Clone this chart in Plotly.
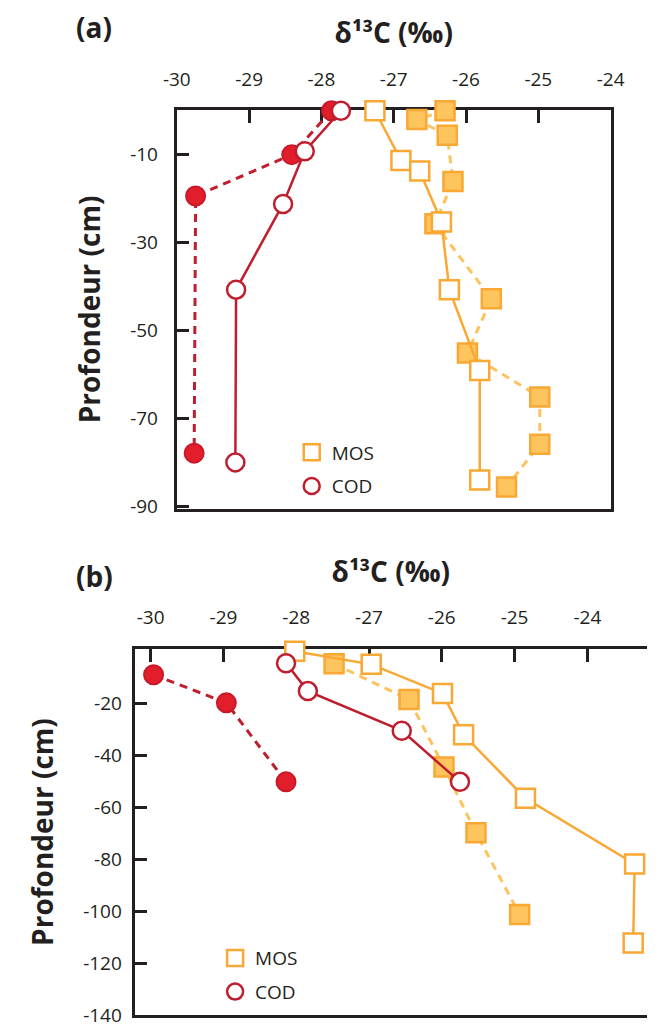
import plotly.graph_objects as go

# ---------------- data ----------------
# Panel (a)
a_cod_open_x = [-27.73, -28.23, -28.53, -29.18, -29.19]
a_cod_open_y = [0, -9.2, -21.2, -40.7, -80.0]
a_cod_fill_x = [-27.86, -28.41, -29.74, -29.76]
a_cod_fill_y = [0, -10, -19.4, -77.9]
a_mos_open_x = [-27.26, -26.90, -26.64, -26.34, -26.23, -25.81, -25.81]
a_mos_open_y = [0, -11.3, -13.7, -25.3, -40.7, -59.1, -84.0]
a_mos_fill_x = [-26.29, -26.68, -26.26, -26.18, -26.43, -25.65, -25.98, -24.98, -24.98, -25.44]
a_mos_fill_y = [0, -2, -5.6, -16.1, -25.7, -42.8, -55.1, -65.1, -75.9, -85.6]

# Panel (b)
b_cod_open_x = [-28.14, -27.84, -26.55, -25.75]
b_cod_open_y = [-4.6, -15.3, -30.5, -50.2]
b_cod_fill_x = [-29.96, -28.96, -28.14]
b_cod_fill_y = [-9.0, -19.8, -50.2]
b_mos_open_x = [-28.02, -26.97, -25.99, -25.70, -24.85, -23.35, -23.37]
b_mos_open_y = [0, -5.0, -16.2, -32.1, -56.5, -81.8, -112.2]
b_mos_fill_x = [-27.48, -26.45, -25.97, -25.53, -24.93]
b_mos_fill_y = [-4.8, -18.5, -44.5, -69.8, -101.2]

x_ticks = [-30, -29, -28, -27, -26, -25, -24]
a_y_ticks = [-10, -30, -50, -70, -90]
b_y_ticks = [-20, -40, -60, -80, -100, -120, -140]

# ---------------- styles ----------------
FONT = "Open Sans"
INK = "#231F20"
RED_LINE = "#BE1E2D"
RED_FILL = "#E31E2C"
ORANGE = "#F9A834"
ORANGE_LIGHT = "#FDC35E"
ORANGE_FILL = "#FEC55E"
DASH = "8px,6px"

fig = go.Figure()


def add_panel(xa, ya, cod_o, cod_f, mos_o, mos_f, msize):
    # MOS filled (dashed)
    fig.add_trace(go.Scatter(
        x=mos_f[0], y=mos_f[1], xaxis=xa, yaxis=ya, mode="lines+markers",
        line=dict(color=ORANGE_LIGHT, width=3, dash=DASH),
        marker=dict(symbol="square", size=msize, color=ORANGE_FILL,
                    line=dict(color=ORANGE, width=2.5)),
        showlegend=False, cliponaxis=False, hoverinfo="x+y"))
    # MOS open (solid)
    fig.add_trace(go.Scatter(
        x=mos_o[0], y=mos_o[1], xaxis=xa, yaxis=ya, mode="lines+markers",
        line=dict(color=ORANGE, width=2.5),
        marker=dict(symbol="square", size=msize, color="white",
                    line=dict(color=ORANGE, width=2.5)),
        showlegend=False, cliponaxis=False, hoverinfo="x+y"))
    # COD filled (dashed)
    fig.add_trace(go.Scatter(
        x=cod_f[0], y=cod_f[1], xaxis=xa, yaxis=ya, mode="lines+markers",
        line=dict(color=RED_LINE, width=3, dash=DASH),
        marker=dict(symbol="circle", size=msize, color=RED_FILL,
                    line=dict(color="#C8192B", width=2)),
        showlegend=False, cliponaxis=False, hoverinfo="x+y"))
    # COD open (solid)
    fig.add_trace(go.Scatter(
        x=cod_o[0], y=cod_o[1], xaxis=xa, yaxis=ya, mode="lines+markers",
        line=dict(color=RED_LINE, width=2.5),
        marker=dict(symbol="circle", size=msize - 1, color="white",
                    line=dict(color=RED_LINE, width=2.5)),
        showlegend=False, cliponaxis=False, hoverinfo="x+y"))


add_panel("x", "y", (a_cod_open_x, a_cod_open_y), (a_cod_fill_x, a_cod_fill_y),
          (a_mos_open_x, a_mos_open_y), (a_mos_fill_x, a_mos_fill_y), 19)
add_panel("x2", "y2", (b_cod_open_x, b_cod_open_y), (b_cod_fill_x, b_cod_fill_y),
          (b_mos_open_x, b_mos_open_y), (b_mos_fill_x, b_mos_fill_y), 19)

# legend entries (legend-only traces)
for xa, ya, lg in (("x", "y", "legend"), ("x2", "y2", "legend2")):
    fig.add_trace(go.Scatter(
        x=[None], y=[None], xaxis=xa, yaxis=ya, mode="markers", name="MOS",
        legend=lg, legendgroup=lg + "mos",
        marker=dict(symbol="square", size=16, color="white",
                    line=dict(color=ORANGE, width=2.5))))
    fig.add_trace(go.Scatter(
        x=[None], y=[None], xaxis=xa, yaxis=ya, mode="markers", name="COD",
        legend=lg, legendgroup=lg + "cod",
        marker=dict(symbol="circle", size=16, color="white",
                    line=dict(color=RED_LINE, width=2.5))))

W, H = 661, 1034
title_font = dict(family=FONT, size=28, color=INK)
X_TITLE = "<b>δ¹³C (‰)</b>"
Y_TITLE = "<b>Profondeur (cm)</b>"

common_x = dict(side="top", showgrid=False, zeroline=False, showline=True,
                linewidth=3, linecolor=INK, mirror=True, ticks="inside",
                ticklen=13, tickwidth=3, tickcolor=INK, tickvals=x_ticks,
                ticktext=[str(v) for v in x_ticks],
                tickfont=dict(family=FONT, size=19, color=INK),
                layer="below traces", ticklabelstandoff=14,
                title=dict(text=X_TITLE, font=title_font, standoff=14))
common_y = dict(showgrid=False, zeroline=False, showline=True,
                linewidth=3, linecolor=INK, ticks="inside",
                ticklen=12, tickwidth=3, tickcolor=INK,
                tickfont=dict(family=FONT, size=19, color=INK),
                layer="below traces")

fig.update_layout(
    width=W, height=H,
    margin=dict(l=0, r=0, t=0, b=0),
    paper_bgcolor="white", plot_bgcolor="white",
    font=dict(family=FONT, color=INK),
    xaxis=dict(common_x, domain=[170 / W, 623 / W], range=[-30, -24], anchor="y"),
    yaxis=dict(common_y, domain=[1 - 515 / H, 1 - 111.7 / H], range=[-90.5, 0.1],
               tickvals=a_y_ticks, ticktext=[str(v) for v in a_y_ticks],
               mirror=True, anchor="x", ticklabelstandoff=12,
               title=dict(text=Y_TITLE, font=title_font, standoff=22)),
    xaxis2=dict(common_x, domain=[126 / W, 1.0], range=[-30.22, -23.18], anchor="y2"),
    yaxis2=dict(common_y, domain=[1 - 1028.3 / H, 1 - 657 / H], range=[-140, 1],
                tickvals=b_y_ticks, ticktext=[str(v) for v in b_y_ticks],
                mirror=False, anchor="x2", ticklabelstandoff=6,
                title=dict(text=Y_TITLE + "\u00a0" * 6, font=title_font, standoff=22)),
    legend=dict(x=290 / W, y=1 - 439 / H, xanchor="left", yanchor="top",
                bgcolor="rgba(0,0,0,0)", font=dict(family=FONT, size=19, color=INK),
                tracegroupgap=6, itemsizing="trace"),
    legend2=dict(x=210 / W, y=1 - 951 / H, xanchor="left", yanchor="top",
                 bgcolor="rgba(0,0,0,0)", font=dict(family=FONT, size=19, color=INK),
                 tracegroupgap=6, itemsizing="trace"),
)

ann = [
    dict(text="<b>(a)</b>", x=84 / W, y=1 - 27 / H),
    dict(text="<b>(b)</b>", x=84 / W, y=1 - 583 / H),
]
for a in ann:
    fig.add_annotation(xref="paper", yref="paper", showarrow=False,
                       xanchor="center", yanchor="middle", font=title_font, **a)

fig.write_html("out.html")
